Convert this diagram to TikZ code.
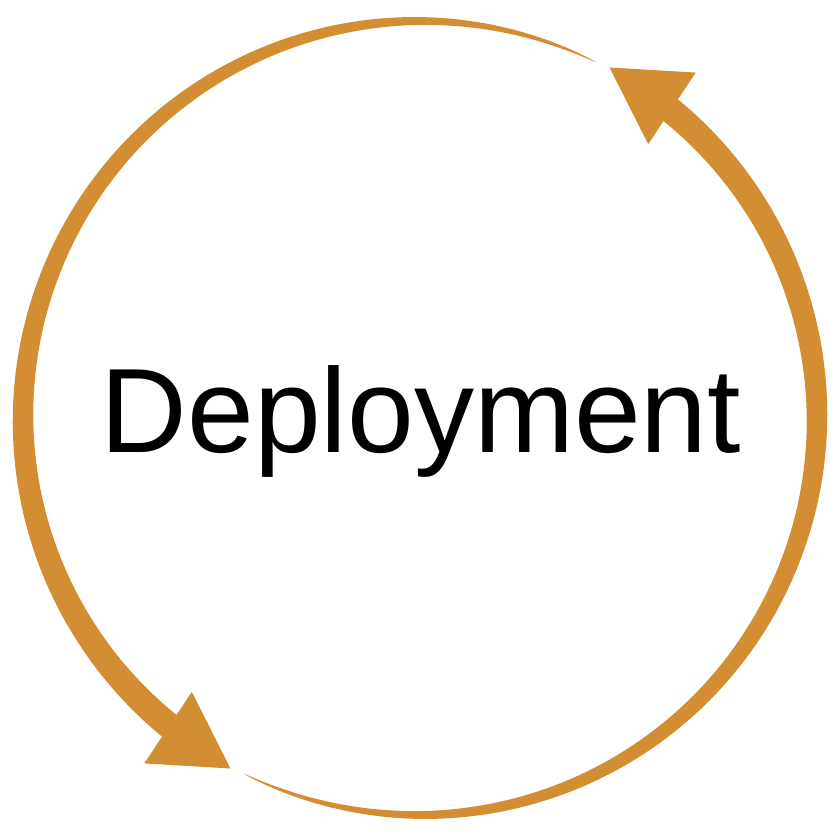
\documentclass[tikz,border=0pt]{standalone}
\usepackage{fontspec}
\setmainfont{Liberation Sans}
\definecolor{cycleorange}{RGB}{211,142,52}
\begin{document}
\begin{tikzpicture}[x=1pt,y=1pt,
  declare function={wd(\t)=26*pow(max((\t-63.7)/167.3,0.0005),0.65);},
  arcfill/.style={fill=cycleorange,draw=none},
  label/.style={font=\fontsize{120}{144}\selectfont,text=black,inner sep=0pt,anchor=base}]
\useasboundingbox (-420,-422) rectangle (419,418);
\foreach \rot in {0,180}{
  \begin{scope}[rotate=\rot]
    \fill[arcfill] plot[domain=63.7:231.5,samples=150] (\x:{397+0.5*wd(\x)})
      -- plot[domain=231.5:63.7,samples=150] (\x:{397-0.5*wd(\x)}) -- cycle;
    \fill[arcfill] (231.4:442) -- (241.6:398.5) -- (230.2:356.5) -- cycle;
  \end{scope}
}
\node[label] (title) at (1,-35) {Deployment};
\end{tikzpicture}
\end{document}
